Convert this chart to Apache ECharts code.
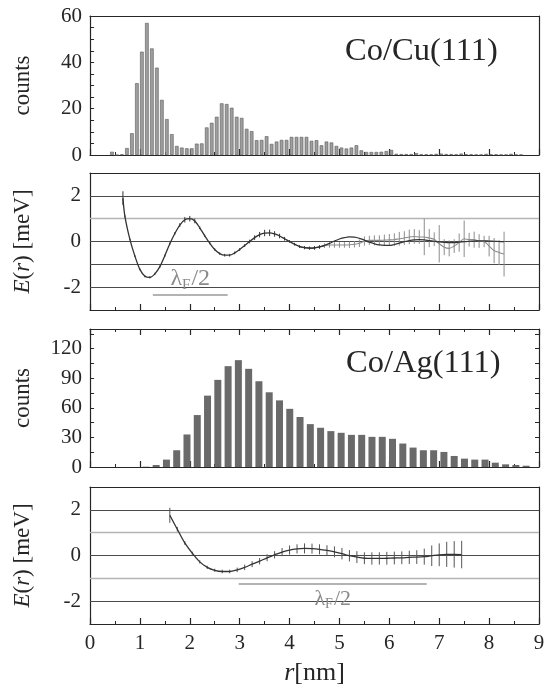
<!DOCTYPE html>
<html>
<head>
<meta charset="utf-8">
<script src="https://cdn.jsdelivr.net/npm/echarts@6/dist/echarts.min.js"></script>
<style>
  html, body { margin: 0; padding: 0; background: #fff; }
  #chart { width: 545px; height: 689px; }
</style>
</head>
<body>
<div id="chart"></div>
<script>
// ---- Co/Cu(111) distance histogram (bin centres start + step*i) ----
var cuBinStart = 0.44;
var cuBinStep = 0.1;
var cuCounts = [1.4, 0, 0.3, 3, 9.4, 31, 44.6, 57, 46, 37.7,
  23.8, 15.5, 9, 3.9, 3.2, 2.9, 2.9, 4.9, 5, 11.9,
  13.9, 16.5, 22.3, 22, 20.4, 16.5, 16, 11.3, 10.3, 6.4,
  6.5, 8.1, 4.8, 5.8, 6.5, 6.5, 7.8, 7.8, 7.8, 7.8,
  6.1, 6.4, 4.2, 5.8, 5.4, 3.9, 3.2, 2.8, 3.2, 4.2,
  2, 1.3, 1.3, 1.3, 1.4, 1.7, 2.2, 0.5, 0.4, 0.4,
  0.4, 0.8, 0.3, 0.3, 0.3, 0.5, 0.6, 0.4, 0.4, 0.3,
  0.6, 0.3, 0.3, 0.2, 0.2, 0.5, 0.3, 0.3, 0.2, 0.2,
  0.5, 0.2, 0.2];

// ---- Co/Cu(111) interaction energy E(r) [meV] ----
var cuR = [0.66, 0.70, 0.80, 0.90, 1.00, 1.10, 1.20, 1.30, 1.40, 1.50,
  1.60, 1.70, 1.80, 1.90, 2.00, 2.10, 2.20, 2.30, 2.40, 2.50,
  2.60, 2.70, 2.80, 2.90, 3.00, 3.10, 3.20, 3.30, 3.40, 3.50,
  3.60, 3.70, 3.80, 3.90, 4.00, 4.10, 4.20, 4.30, 4.40, 4.50,
  4.60, 4.70, 4.80, 4.90, 5.00, 5.10, 5.20, 5.30, 5.40, 5.50,
  5.60, 5.70, 5.80, 5.90, 6.00, 6.10, 6.20, 6.30, 6.40, 6.50,
  6.60, 6.70, 6.80, 6.90, 7.00, 7.10, 7.20, 7.30, 7.40, 7.50,
  7.60, 7.70, 7.80, 7.90, 8.00, 8.10, 8.20, 8.30];
var cuE = [1.90, 1.10, 0.09, -0.64, -1.22, -1.52, -1.57, -1.42, -1.10, -0.62,
  -0.10, 0.35, 0.72, 0.95, 1.00, 0.90, 0.60, 0.25, -0.07, -0.35,
  -0.53, -0.60, -0.60, -0.50, -0.35, -0.18, 0.00, 0.17, 0.30, 0.37,
  0.38, 0.33, 0.24, 0.12, 0.00, -0.12, -0.22, -0.27, -0.29, -0.28,
  -0.24, -0.18, -0.15, -0.15, -0.15, -0.15, -0.14, -0.12, -0.08, 0.02,
  0.05, 0.05, 0.05, 0.06, 0.07, 0.08, 0.12, 0.15, 0.20, 0.22,
  0.20, 0.20, 0.15, 0.10, -0.10, -0.25, -0.30, -0.20, -0.05, 0.12,
  0.08, 0.08, 0.02, 0.00, -0.20, -0.40, -0.48, -0.55];
var cuErr = [0.30, 0.05, 0.04, 0.04, 0.04, 0.05, 0.05, 0.05, 0.05, 0.05,
  0.05, 0.06, 0.08, 0.12, 0.12, 0.10, 0.06, 0.05, 0.05, 0.05,
  0.05, 0.06, 0.06, 0.06, 0.06, 0.06, 0.08, 0.10, 0.12, 0.14,
  0.14, 0.12, 0.10, 0.08, 0.06, 0.06, 0.06, 0.07, 0.07, 0.08,
  0.08, 0.10, 0.12, 0.12, 0.12, 0.12, 0.14, 0.14, 0.16, 0.20,
  0.20, 0.22, 0.22, 0.24, 0.26, 0.28, 0.30, 0.30, 0.32, 0.32,
  0.30, 0.80, 0.40, 0.30, 0.82, 0.35, 0.35, 0.30, 0.40, 0.80,
  0.30, 0.35, 0.30, 0.25, 0.45, 0.55, 0.55, 0.98];
// fitted curve beyond the point where it separates from the data
var cuFitR = [4.2, 4.3, 4.4, 4.5, 4.6, 4.7, 4.8, 4.9, 5.0, 5.1,
  5.2, 5.3, 5.4, 5.5, 5.6, 5.7, 5.8, 5.9, 6.0, 6.1,
  6.2, 6.3, 6.4, 6.5, 6.6, 6.7, 6.8, 6.9, 7.0, 7.1,
  7.2, 7.3, 7.4, 7.5, 7.6, 7.7, 7.8, 7.9, 8.0, 8.1,
  8.2, 8.3];
var cuFit = [-0.22, -0.27, -0.29, -0.28, -0.24, -0.17, -0.08, 0.02, 0.11, 0.17,
  0.20, 0.19, 0.14, 0.06, -0.03, -0.10, -0.15, -0.17, -0.17, -0.13,
  -0.07, -0.01, 0.04, 0.07, 0.08, 0.07, 0.04, 0.01, -0.02, -0.04,
  -0.05, -0.05, -0.03, -0.01, 0.01, 0.02, 0.03, 0.03, 0.02, 0.01,
  0.00, -0.01];
var cuLambda = [1.26, 2.76];
var cuLambdaLevel = -2.35;

// ---- Co/Ag(111) distance histogram ----
var agBinStart = 1.12;
var agBinStep = 0.206;
var agCounts = [0.3, 2, 7.5, 17, 33, 52.7, 72.4, 88.4, 102.3, 108.4,
  99.6, 87, 75.8, 67.6, 59, 50.7, 43.5, 39.8, 36.4, 34.7,
  32.6, 32.6, 30.6, 30.6, 28.6, 23.8, 19.7, 17, 17, 15.3,
  11.2, 8.5, 7.5, 7.5, 4.4, 2.7, 2, 1.3];

// ---- Co/Ag(111) interaction energy E(r) [meV] ----
var agR = [1.60, 1.75, 1.90, 2.05, 2.20, 2.35, 2.50, 2.65, 2.80, 2.95,
  3.10, 3.25, 3.40, 3.55, 3.70, 3.85, 4.00, 4.15, 4.30, 4.45,
  4.60, 4.75, 4.90, 5.05, 5.20, 5.35, 5.50, 5.65, 5.80, 5.95,
  6.10, 6.25, 6.40, 6.55, 6.70, 6.85, 7.00, 7.15, 7.30, 7.45];
var agE = [1.76, 1.15, 0.55, 0.10, -0.28, -0.52, -0.65, -0.70, -0.70, -0.63,
  -0.52, -0.38, -0.25, -0.10, 0.03, 0.15, 0.24, 0.29, 0.31, 0.30,
  0.27, 0.22, 0.16, 0.08, -0.01, -0.07, -0.12, -0.13, -0.13, -0.12,
  -0.11, -0.10, -0.08, -0.07, -0.05, -0.01, 0.03, 0.05, 0.05, 0.04];
var agErr = [0.33, 0.10, 0.08, 0.07, 0.07, 0.07, 0.07, 0.08, 0.08, 0.10,
  0.12, 0.13, 0.14, 0.15, 0.16, 0.18, 0.20, 0.20, 0.22, 0.22,
  0.22, 0.23, 0.24, 0.25, 0.25, 0.26, 0.26, 0.27, 0.27, 0.28,
  0.28, 0.28, 0.29, 0.30, 0.35, 0.45, 0.50, 0.55, 0.58, 0.60];
var agLambda = [2.98, 6.75];
var agLambdaLevel = -1.23;

// horizontal reference lines in the E(r) panels
var eLevels = [2, 1, 0, -1, -2];
var cuLevelLight = [false, true, false, false, false];
var agLevelLight = [false, true, false, true, false];

// ---- helpers ----
var serif = 'Liberation Serif, Times New Roman, serif';
var ink = '#262626';
var tickFont = { color: ink, fontFamily: serif, fontSize: 21 };
var nameFont = { color: ink, fontFamily: serif, fontSize: 23 };

var grids = [
  { left: 90, right: 6, top: 16, height: 139 },
  { left: 90, right: 6, top: 173, height: 137 },
  { left: 90, right: 6, top: 329, height: 138 },
  { left: 90, right: 6, top: 487, height: 137 }
].map(function (g) { g.outerBoundsMode = 'none'; return g; });

function xAxisPair(gi, showLabel, topTicks) {
  var bottom = {
    type: 'value', gridIndex: gi, position: 'bottom', min: 0, max: 9, interval: 1,
    axisLine: { onZero: false, lineStyle: { color: ink, width: 1.2 } },
    axisTick: { inside: true, length: 6, lineStyle: { color: ink, width: 1.2 } },
    minorTick: { show: true, splitNumber: 2, length: 3, lineStyle: { color: ink, width: 1 } },
    splitLine: { show: false },
    axisLabel: Object.assign({ show: showLabel, margin: 9 }, tickFont)
  };
  var top = {
    type: 'value', gridIndex: gi, position: 'top', min: 0, max: 9, interval: 1,
    axisLine: { onZero: false, lineStyle: { color: ink, width: 1.2 } },
    axisTick: { show: topTicks, inside: true, length: 6, lineStyle: { color: ink, width: 1.2 } },
    minorTick: { show: topTicks, splitNumber: 2, length: 3, lineStyle: { color: ink } },
    splitLine: { show: false },
    axisLabel: { show: false }
  };
  return [bottom, top];
}

function countAxes(gi, max, interval, minorSplit, rightTicks) {
  var left = {
    type: 'value', gridIndex: gi, position: 'left', min: 0, max: max, interval: interval,
    name: 'counts', nameLocation: 'middle', nameRotate: 90, nameGap: 56, nameTextStyle: nameFont,
    axisLine: { onZero: false, lineStyle: { color: ink, width: 1.2 } },
    axisTick: { inside: true, length: 4, lineStyle: { color: ink } },
    minorTick: { show: true, splitNumber: minorSplit, length: 4, lineStyle: { color: ink } },
    splitLine: { show: false },
    axisLabel: Object.assign({ margin: 8, showMaxLabel: max % interval === 0 }, tickFont)
  };
  var right = {
    type: 'value', gridIndex: gi, position: 'right', min: 0, max: max, interval: interval,
    axisLine: { onZero: false, lineStyle: { color: ink, width: 1.2 } },
    axisTick: { show: rightTicks, inside: true, length: 4, lineStyle: { color: ink } },
    minorTick: { show: rightTicks, splitNumber: minorSplit, length: 4, lineStyle: { color: ink } },
    splitLine: { show: false },
    axisLabel: { show: false }
  };
  return [left, right];
}

function energyAxes(gi) {
  var left = {
    type: 'value', gridIndex: gi, position: 'left', min: -3, max: 3, interval: 1,
    name: '{i|E}({i|r}) [meV]', nameLocation: 'middle', nameRotate: 90, nameGap: 56,
    nameTextStyle: Object.assign({ rich: { i: Object.assign({ fontStyle: 'italic' }, nameFont) } }, nameFont),
    axisLine: { onZero: false, lineStyle: { color: ink, width: 1.2 } },
    axisTick: { show: false },
    splitLine: { show: false },
    axisLabel: Object.assign({
      margin: 9,
      formatter: function (v) { return (v % 2 === 0 && Math.abs(v) < 3) ? String(v) : ''; }
    }, tickFont)
  };
  var right = {
    type: 'value', gridIndex: gi, position: 'right', min: -3, max: 3, interval: 1,
    axisLine: { onZero: false, lineStyle: { color: ink, width: 1.2 } },
    axisTick: { show: false }, splitLine: { show: false }, axisLabel: { show: false }
  };
  return [left, right];
}

function pairs(xs, ys) { return xs.map(function (x, i) { return [x, ys[i]]; }); }

function errorSeries(gi, xs, ys, es, from, to, color) {
  var data = [];
  for (var i = from; i < to; i++) data.push([xs[i], ys[i] - es[i], ys[i] + es[i]]);
  return {
    type: 'custom', xAxisIndex: 2 * gi, yAxisIndex: 2 * gi, z: 3, silent: true,
    data: data,
    encode: { x: 0, y: [1, 2] },
    renderItem: function (params, api) {
      var a = api.coord([api.value(0), api.value(1)]);
      var b = api.coord([api.value(0), api.value(2)]);
      return { type: 'line', shape: { x1: a[0], y1: a[1], x2: b[0], y2: b[1] },
        style: { stroke: color, lineWidth: 1 } };
    }
  };
}

function levelLines(light) {
  return {
    silent: true, symbol: 'none', z: 1, label: { show: false },
    data: eLevels.map(function (v, i) {
      return { yAxis: v, lineStyle: { type: 'solid', color: light[i] ? '#b4b4b4' : '#4a4a4a', width: light[i] ? 1.4 : 1.1 } };
    })
  };
}

function lambdaSeries(gi, span, level, pos, size) {
  var sub = Math.round(size * 0.62);
  return {
    type: 'line', xAxisIndex: 2 * gi, yAxisIndex: 2 * gi, data: [], silent: true,
    markLine: {
      silent: true, symbol: 'none', z: 2,
      lineStyle: { type: 'solid', color: '#9a9a9a', width: 1.6 },
      label: {
        show: true, position: pos, distance: 3,
        formatter: '{a|λ}{s|F}{a|/2}',
        rich: {
          a: { fontFamily: serif, fontSize: size, color: '#8a8a8a' },
          s: { fontFamily: serif, fontSize: sub, color: '#8a8a8a', padding: [Math.round(size * 0.5), 1, 0, 0] }
        }
      },
      data: [[{ coord: [span[0], level] }, { coord: [span[1], level] }]]
    }
  };
}

var cuBars = cuCounts.map(function (c, i) { return [+(cuBinStart + i * cuBinStep).toFixed(3), c]; });
var agBars = agCounts.map(function (c, i) { return [+(agBinStart + i * agBinStep).toFixed(3), c]; });

var xAxes = [].concat(xAxisPair(0, false, false), xAxisPair(1, false, false),
  xAxisPair(2, false, true), xAxisPair(3, true, false));
xAxes[6].name = '{i|r}[nm]';
xAxes[6].nameLocation = 'middle';
xAxes[6].nameGap = 36;
xAxes[6].nameTextStyle = { color: ink, fontFamily: serif, fontSize: 26,
  rich: { i: { fontStyle: 'italic', fontFamily: serif, fontSize: 26, color: ink } } };

var yAxes = [].concat(countAxes(0, 60, 20, 4, false), energyAxes(1),
  countAxes(2, 140, 30, 2, true), energyAxes(3));

var titleStyle = { fontFamily: serif, fontSize: 32.5, fontWeight: 'normal', color: ink };

var option = {
  animation: false,
  backgroundColor: '#ffffff',
  title: [
    { text: 'Co/Cu(111)', left: 345, top: 35, padding: 0, textStyle: titleStyle },
    { text: 'Co/Ag(111)', left: 346, top: 347, padding: 0, textStyle: titleStyle }
  ],
  grid: grids,
  xAxis: xAxes,
  yAxis: yAxes,
  series: [
    { type: 'bar', xAxisIndex: 0, yAxisIndex: 0, data: cuBars, barWidth: 3.6,
      itemStyle: { color: '#9e9e9e', borderColor: '#5a5a5a', borderWidth: 0.6 } },
    // Co/Cu E(r)
    { type: 'line', xAxisIndex: 2, yAxisIndex: 2, data: pairs(cuR, cuE).slice(41),
      smooth: 0.3, showSymbol: false, lineStyle: { color: '#8c8c8c', width: 1.1 } },
    { type: 'line', xAxisIndex: 2, yAxisIndex: 2, data: pairs(cuR, cuE).slice(0, 42),
      smooth: 0.3, showSymbol: false, lineStyle: { color: '#333', width: 1.3 },
      markLine: levelLines(cuLevelLight) },
    { type: 'line', xAxisIndex: 2, yAxisIndex: 2, data: pairs(cuFitR, cuFit),
      smooth: 0.4, showSymbol: false, lineStyle: { color: '#333', width: 1.2 } },
    errorSeries(1, cuR, cuE, cuErr, 0, 41, '#333'),
    errorSeries(1, cuR, cuE, cuErr, 41, cuR.length, '#8c8c8c'),
    lambdaSeries(1, cuLambda, cuLambdaLevel, 'insideMiddleTop', 24),
    // Co/Ag histogram
    { type: 'bar', xAxisIndex: 4, yAxisIndex: 4, data: agBars, barWidth: 7,
      itemStyle: { color: '#6a6a6a' } },
    // Co/Ag E(r)
    { type: 'line', xAxisIndex: 6, yAxisIndex: 6, data: pairs(agR, agE),
      smooth: 0.3, showSymbol: false, lineStyle: { color: '#333', width: 1.3 },
      markLine: levelLines(agLevelLight) },
    errorSeries(3, agR, agE, agErr, 0, agR.length, '#555'),
    lambdaSeries(3, agLambda, agLambdaLevel, 'insideMiddleBottom', 22)
  ]
};

var chart = echarts.init(document.getElementById('chart'), null, { renderer: 'canvas' });
chart.setOption(option);
window.addEventListener('resize', chart.resize);
</script>
</body>
</html>
